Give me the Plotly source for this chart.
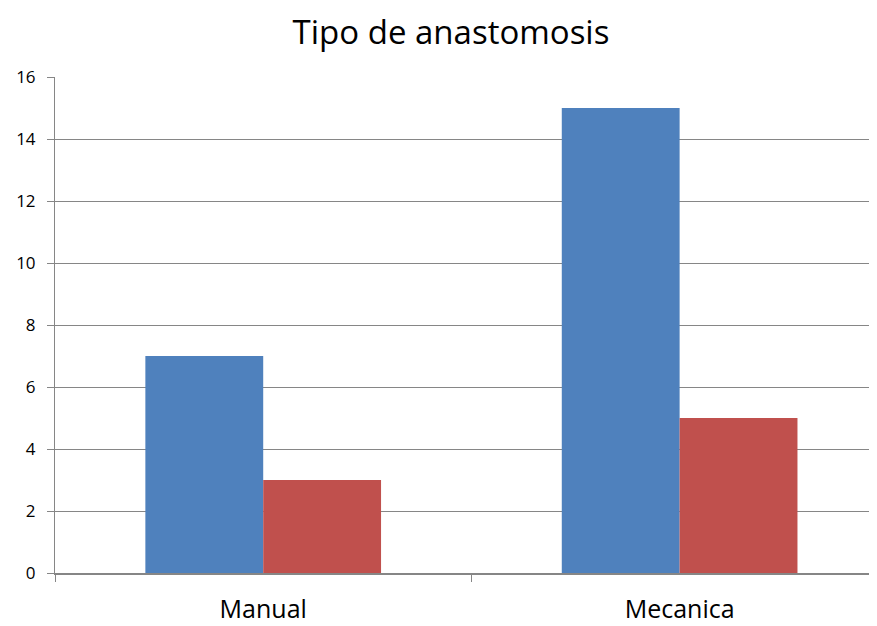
import plotly.graph_objects as go

categories = ["Manual", "Mecanica"]
serie_1 = [7, 15]
serie_2 = [3, 5]
y_ticks = [0, 2, 4, 6, 8, 10, 12, 14, 16]

FONT = "Open Sans, sans-serif"
GRID = "#868686"

fig = go.Figure()
fig.add_trace(go.Bar(x=categories, y=serie_1, marker_color="#4F81BD",
                     marker_line_width=0, name="Serie 1"))
fig.add_trace(go.Bar(x=categories, y=serie_2, marker_color="#C0504D",
                     marker_line_width=0, name="Serie 2"))

# the page body has an 8px margin, so the figure starts at (8, 8)
fig.update_layout(
    width=869, height=618,
    barmode="group",
    bargap=0.434,
    bargroupgap=0,
    showlegend=False,
    plot_bgcolor="white",
    paper_bgcolor="white",
    margin=dict(l=47, r=0, t=69, b=53, autoexpand=False),
    font=dict(family=FONT, color="#000000"),
    title=dict(text="Tipo de anastomosis", x=0.5098, xanchor="center",
               y=0.961, yanchor="middle",
               font=dict(family=FONT, size=33, color="#000000")),
    xaxis=dict(
        range=[-0.5, 1.474],
        tickson="boundaries",
        ticks="outside", ticklen=7, tickcolor=GRID, tickwidth=1,
        ticklabelstandoff=13,
        automargin=False,
        showline=True, linecolor=GRID, linewidth=2,
        showgrid=False, zeroline=False,
        tickfont=dict(size=25, family=FONT),
    ),
    yaxis=dict(
        range=[0, 16],
        tickvals=y_ticks,
        ticks="outside", ticklen=7, tickcolor=GRID, tickwidth=1,
        ticklabelstandoff=8,
        automargin=False,
        showline=True, linecolor=GRID, linewidth=1,
        showgrid=True, gridcolor=GRID, gridwidth=1,
        zeroline=False,
        tickfont=dict(size=17, family=FONT),
    ),
)

fig.write_html("out.html")
